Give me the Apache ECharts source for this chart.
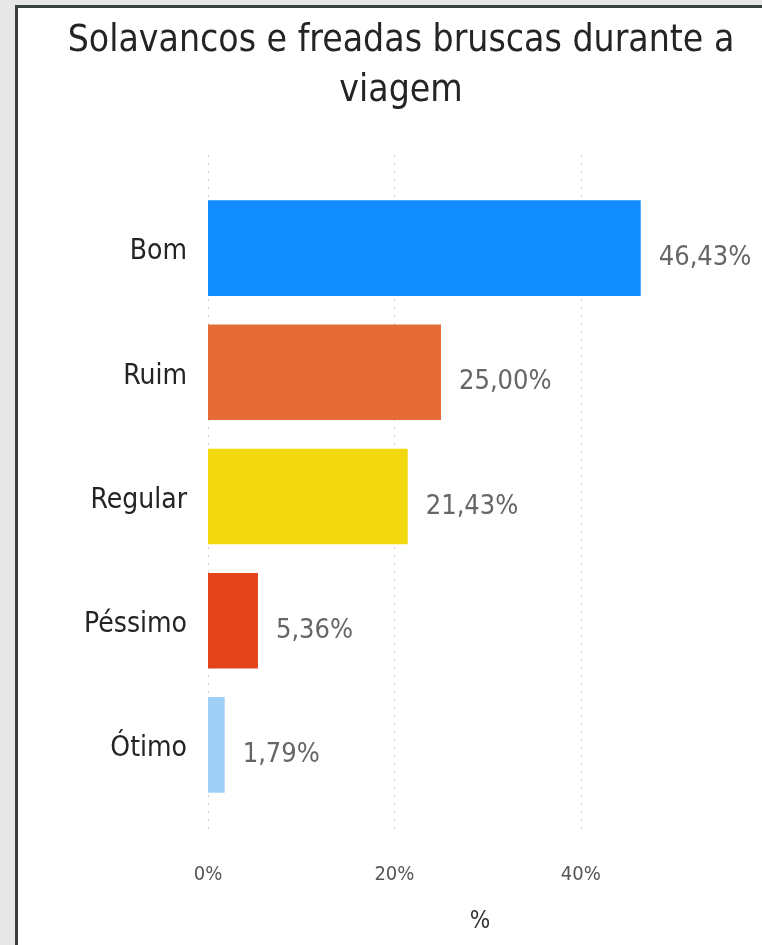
<!DOCTYPE html>
<html>
<head>
<meta charset="utf-8">
<script src="https://cdn.jsdelivr.net/npm/echarts@6/dist/echarts.min.js"></script>
<style>
html,body{margin:0;padding:0;width:762px;height:945px;background:#e7e7e7;overflow:hidden;}
#frame{position:absolute;left:15px;top:5px;right:0;bottom:0;background:#fff;border-left:3px solid #3a403a;border-top:3px solid #3a403a;}
#chart{position:absolute;left:0;top:0;width:762px;height:945px;}
</style>
</head>
<body>
<div id="frame"></div>
<div id="chart"></div>
<script>
const titleText = 'Solavancos e freadas bruscas durante a\nviagem';
const categories = ['Bom', 'Ruim', 'Regular', 'Péssimo', 'Ótimo'];
const values = [46.43, 25.00, 21.43, 5.36, 1.79];
const colors = ['#118DFF', '#E66C37', '#F2D80E', '#E3441B', '#A0CFF7'];
const xTicks = [0, 20, 40];
const axisName = '%';

const FONT = '"DejaVu Sans Condensed", "Liberation Sans Narrow", sans-serif';
const fmt = v => v.toFixed(2).replace('.', ',') + '%';

const chart = echarts.init(document.getElementById('chart'), null, {renderer: 'canvas'});
chart.setOption({
  backgroundColor: 'transparent',
  animation: false,
  title: {
    text: titleText,
    left: 396, top: 11, textAlign: 'center',
    textStyle: {fontFamily: FONT, fontSize: 37, fontWeight: 'normal', color: '#252423', lineHeight: 50}
  },
  grid: [
    {left: 208, right: 88, top: 155, bottom: 115},
    {left: 208, right: 88, top: 186, bottom: 138}
  ],
  xAxis: [
    {
      gridIndex: 0, type: 'value', min: 0, max: 50, interval: 20,
      name: axisName, nameLocation: 'middle', nameGap: 80,
      nameTextStyle: {fontFamily: FONT, fontSize: 24, color: '#333', padding: [0, 0, 0, 78]},
      axisLine: {show: false}, axisTick: {show: false},
      axisLabel: {
        margin: 35, fontFamily: FONT, fontSize: 20, color: '#555',
        formatter: v => xTicks.indexOf(v) >= 0 ? v + '%' : ''
      },
      splitLine: {show: true, showMaxLine: false, lineStyle: {color: '#cfcfcf', width: 1, type: [2, 6]}}
    },
    {
      gridIndex: 1, type: 'value', min: 0, max: 50, interval: 20,
      axisLine: {show: false}, axisTick: {show: false}, axisLabel: {show: false}, splitLine: {show: false}
    }
  ],
  yAxis: [
    {gridIndex: 0, type: 'category', data: categories, inverse: true, show: false},
    {
      gridIndex: 1, type: 'category', data: categories, inverse: true,
      axisLine: {show: false}, axisTick: {show: false},
      axisLabel: {
        margin: 21,
        formatter: v => '{c|' + v + '}',
        rich: {c: {fontFamily: FONT, fontSize: 28, color: '#252423', padding: [8, 0, 0, 0]}}
      }
    }
  ],
  series: [{
    type: 'bar', xAxisIndex: 1, yAxisIndex: 1,
    barCategoryGap: '23%',
    data: values.map((v, i) => ({value: v, itemStyle: {color: colors[i]}})),
    label: {
      show: true, position: 'right', distance: 18, offset: [0, 10],
      fontFamily: FONT, fontSize: 27, color: '#666',
      formatter: p => fmt(p.value)
    }
  }]
});
</script>
</body>
</html>
